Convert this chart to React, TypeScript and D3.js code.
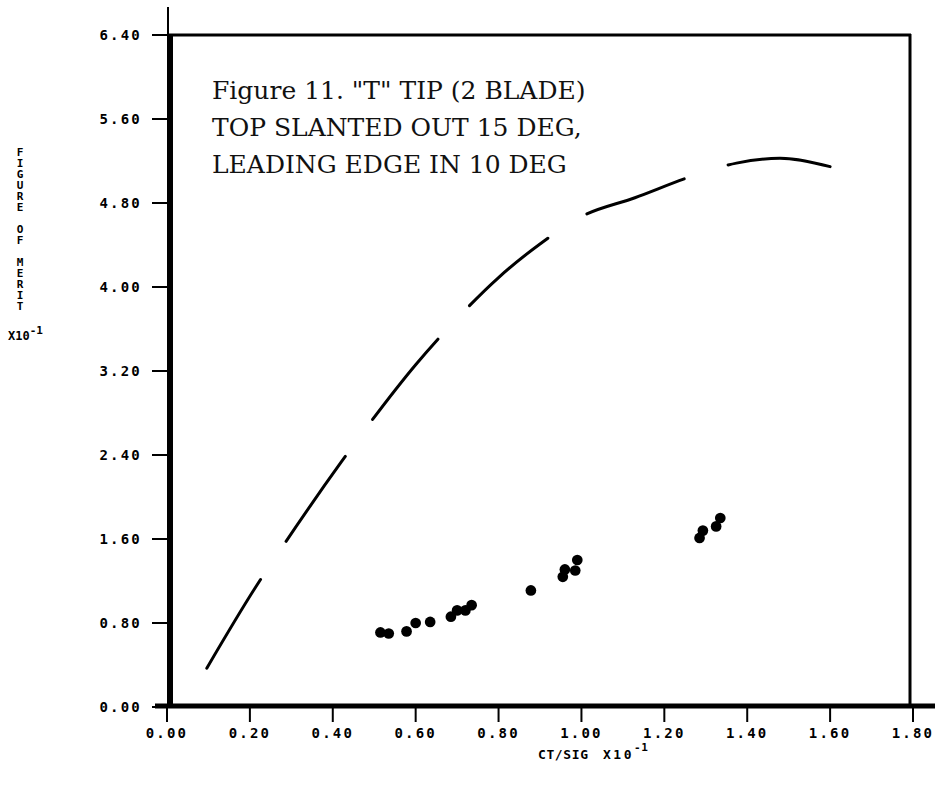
import React, { useLayoutEffect, useRef, useState } from "react";
import * as d3 from "d3";

// Axis ticks (FIGURE OF MERIT x10^-1 vs CT/SIG x10^-1)
const xTicks = [0, 0.2, 0.4, 0.6, 0.8, 1.0, 1.2, 1.4, 1.6, 1.8];
const yTicks = [0, 0.8, 1.6, 2.4, 3.2, 4.0, 4.8, 5.6, 6.4];

// Reference (ideal) figure-of-merit curve, drawn dashed
const curveX = [0.096, 0.216, 0.274, 0.421, 0.49, 0.6, 0.7, 0.8, 0.9, 1.0, 1.129, 1.263, 1.374, 1.479, 1.6];
const curveY = [0.37, 1.155, 1.5, 2.336, 2.707, 3.26, 3.7, 4.09, 4.41, 4.67, 4.85, 5.05, 5.18, 5.226, 5.146];

// Measured test points
const pointX = [0.515, 0.535, 0.578, 0.6, 0.635, 0.685, 0.7, 0.72, 0.735, 0.878, 0.955, 0.96, 0.985, 0.99, 1.285, 1.293, 1.325, 1.335];
const pointY = [0.71, 0.7, 0.72, 0.8, 0.81, 0.86, 0.92, 0.92, 0.97, 1.11, 1.24, 1.31, 1.3, 1.4, 1.61, 1.68, 1.72, 1.8];

const titleLines = ['Figure 11. "T" TIP (2 BLADE)', "TOP SLANTED OUT 15 DEG,", "LEADING EDGE IN 10 DEG"];
const yLabel = "FIGURE OF MERIT";

const W = 940;
const H = 785;
const mono = "'DejaVu Sans Mono', monospace";
const DASH_GAP = 46;
const DASH_TARGET = 100;

export default function App() {
  const x = d3.scaleLinear().domain([0, 1.8]).range([167, 913]);
  const y = d3.scaleLinear().domain([0, 6.4]).range([707, 35]);
  const fmt = d3.format(".2f");

  const curvePts: [number, number][] = curveX.map((v, i) => [v, curveY[i]]);
  const line = d3
    .line<[number, number]>()
    .x((d) => x(d[0]))
    .y((d) => y(d[1]))
    .curve(d3.curveMonotoneX);

  // Fit the long-dash pattern so the curve starts and ends on a dash
  const pathRef = useRef<SVGPathElement>(null);
  const [dash, setDash] = useState(`${DASH_TARGET} ${DASH_GAP}`);
  useLayoutEffect(() => {
    if (!pathRef.current) return;
    const L = pathRef.current.getTotalLength();
    const n = Math.max(1, Math.round((L + DASH_GAP) / (DASH_TARGET + DASH_GAP)));
    const d = (L - (n - 1) * DASH_GAP) / n;
    setDash(`${d.toFixed(2)} ${DASH_GAP}`);
  }, []);

  const sym = d3.symbol().type(d3.symbolCircle).size(90);

  const x0 = x(0);
  const x1 = x(1.8);
  const y0 = y(0);
  const y1 = y(6.4);

  return (
    <svg
      width={W}
      height={H}
      style={{ position: "absolute", left: 0, top: 0, background: "#fff" }}
    >
      <rect x={0} y={0} width={W} height={H} fill="#fff" />

      {/* frame */}
      <line x1={x0 + 1} x2={x0 + 1} y1={7} y2={y1} stroke="#000" strokeWidth={2} />
      <line x1={x0 + 3} x2={x0 + 3} y1={y1} y2={y0} stroke="#000" strokeWidth={6} />
      <line x1={x0} x2={x1 - 2} y1={y1} y2={y1} stroke="#000" strokeWidth={3} />
      <line x1={x1 - 3} x2={x1 - 3} y1={y1 - 1} y2={y0} stroke="#000" strokeWidth={3} />
      <line x1={x0 - 12} x2={x1 + 22} y1={y0 - 1} y2={y0 - 1} stroke="#000" strokeWidth={5} />

      {/* y ticks */}
      {yTicks.map((t) => (
        <g key={"y" + t}>
          <line x1={x0 - 15} x2={x0} y1={y(t)} y2={y(t)} stroke="#000" strokeWidth={2} />
          <text
            x={x0 - 25}
            y={y(t)}
            textAnchor="end"
            dominantBaseline="central"
            fontFamily={mono}
            fontWeight="bold"
            fontSize={14}
            letterSpacing={2.2}
          >
            {fmt(t)}
          </text>
        </g>
      ))}

      {/* x ticks */}
      {xTicks.map((t) => (
        <g key={"x" + t}>
          <line x1={x(t)} x2={x(t)} y1={y0} y2={y0 + 15} stroke="#000" strokeWidth={2} />
          <text
            x={x(t)}
            y={y0 + 26}
            textAnchor="middle"
            dominantBaseline="central"
            fontFamily={mono}
            fontWeight="bold"
            fontSize={14}
            letterSpacing={2.2}
          >
            {fmt(t)}
          </text>
        </g>
      ))}

      {/* y-axis title, stacked letters */}
      <text
        x={20}
        y={146}
        fontFamily={mono}
        fontWeight="bold"
        fontSize={11}
        letterSpacing={-2}
        style={{ writingMode: "vertical-rl", textOrientation: "upright" } as React.CSSProperties}
      >
        {yLabel}
      </text>
      <text x={8} y={336} fontFamily={mono} fontWeight="bold" fontSize={12} dominantBaseline="central">
        X10
        <tspan dy={-6} fontSize={11}>-1</tspan>
      </text>

      {/* x-axis title */}
      <text
        x={538}
        y={754}
        fontFamily={mono}
        fontWeight="bold"
        fontSize={13}
        letterSpacing={0.6}
        dominantBaseline="central"
      >
        CT/SIG
        <tspan x={603} letterSpacing={2.5}>X10</tspan>
        <tspan dy={-7} fontSize={11}>-1</tspan>
      </text>

      {/* title */}
      {titleLines.map((s, i) => (
        <text
          key={"t" + i}
          x={212}
          y={99 + i * 37}
          fontFamily="'DejaVu Serif', serif"
          fontSize={25}
          fill="#111"
        >
          {s}
        </text>
      ))}

      {/* ideal curve */}
      <path
        ref={pathRef}
        d={line(curvePts) || ""}
        fill="none"
        stroke="#000"
        strokeWidth={3}
        strokeLinecap="round"
        strokeDasharray={dash}
      />

      {/* test points */}
      {pointX.map((v, i) => (
        <path
          key={"p" + i}
          d={sym() || ""}
          transform={`translate(${x(v)},${y(pointY[i])})`}
          fill="#000"
        />
      ))}
    </svg>
  );
}
